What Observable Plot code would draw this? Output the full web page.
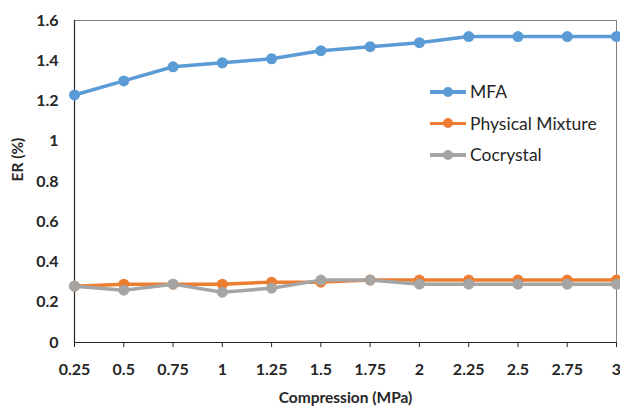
<!DOCTYPE html>
<html><head><meta charset="utf-8">
<script src="https://cdn.jsdelivr.net/npm/d3@7"></script>
<script src="https://cdn.jsdelivr.net/npm/@observablehq/plot@0.6"></script>
<style>
body{margin:0;background:#fff;font-family:Lato,"Open Sans",sans-serif;}
#wrap{position:relative;width:620px;height:408px;}
#legend{position:absolute;left:430px;top:76px;font-size:17.5px;color:#262626;font-family:Lato,sans-serif;}
.item{display:flex;align-items:center;height:31.5px;}
.sw{position:relative;width:36px;height:10px;margin-right:4px;}
.sw .ln{position:absolute;left:0;top:3.5px;width:36px;height:3.5px;}
.sw .dt{position:absolute;left:13px;top:0;width:10px;height:10px;border-radius:50%;}
</style></head>
<body><div id="wrap"><div id="legend"></div></div>
<script>
const compression = [0.25,0.5,0.75,1,1.25,1.5,1.75,2,2.25,2.5,2.75,3];
const mfa = [1.23,1.30,1.37,1.39,1.41,1.45,1.47,1.49,1.52,1.52,1.52,1.52];
const physicalMixture = [0.28,0.29,0.29,0.29,0.30,0.30,0.31,0.31,0.31,0.31,0.31,0.31];
const cocrystal = [0.28,0.26,0.29,0.25,0.27,0.31,0.31,0.29,0.29,0.29,0.29,0.29];
const seriesNames = ["MFA","Physical Mixture","Cocrystal"];
const seriesColors = ["#5B9BD5","#ED7D31","#A5A5A5"];
const yTicks = [0,0.2,0.4,0.6,0.8,1,1.2,1.4,1.6];
const xTicks = compression;

const seriesValues = [mfa, physicalMixture, cocrystal];
const rows = [];
seriesNames.forEach((s,i)=>compression.forEach((c,j)=>rows.push({series:s,x:c,y:seriesValues[i][j]})));

const chart = Plot.plot({
  width:620, height:408,
  marginLeft:74, marginRight:4, marginTop:20, marginBottom:66,
  style:{fontFamily:"Lato, sans-serif", fontSize:"16px", fontWeight:"bold", color:"#262626", background:"#fff"},
  x:{domain:[0.25,3], label:null},
  y:{domain:[0,1.6], label:null},
  color:{domain:seriesNames, range:seriesColors},
  marks:[
    Plot.ruleY([1.6],{stroke:"#7f7f7f", strokeWidth:1}),
    Plot.ruleX([3],{stroke:"#7f7f7f", strokeWidth:1}),
    Plot.axisX({ticks:xTicks, tickFormat:d=>String(d), tickSize:5, tickPadding:16, stroke:"#262626", fontSize:16, fontWeight:"bold"}),
    Plot.axisY({ticks:yTicks, tickFormat:d=>String(d), tickSize:0, tickPadding:16, fontSize:16, fontWeight:"bold"}),
    Plot.ruleY([0],{stroke:"#262626", strokeWidth:1.2}),
    Plot.ruleX([0.25],{stroke:"#262626", strokeWidth:1.2}),
    Plot.line(rows,{x:"x",y:"y",z:"series",stroke:"series",strokeWidth:3.5}),
    Plot.dot(rows,{x:"x",y:"y",fill:"series",r:5.5}),
    Plot.text(["Compression (MPa)"],{frameAnchor:"bottom",dy:56,lineAnchor:"middle",text:d=>d,fontSize:15.5,fontWeight:"bold"}),
    Plot.text(["ER (%)"],{frameAnchor:"left",dx:-56,rotate:-90,text:d=>d,fontSize:15.5,fontWeight:"bold"})
  ]
});
const wrap = document.getElementById("wrap");
wrap.insertBefore(chart, wrap.firstChild);
const lg = document.getElementById("legend");
seriesNames.forEach((s,i)=>{
  const it=document.createElement("div");it.className="item";
  it.innerHTML=`<div class="sw"><div class="ln" style="background:${seriesColors[i]}"></div><div class="dt" style="background:${seriesColors[i]}"></div></div><span>${s}</span>`;
  lg.appendChild(it);
});
</script></body></html>
